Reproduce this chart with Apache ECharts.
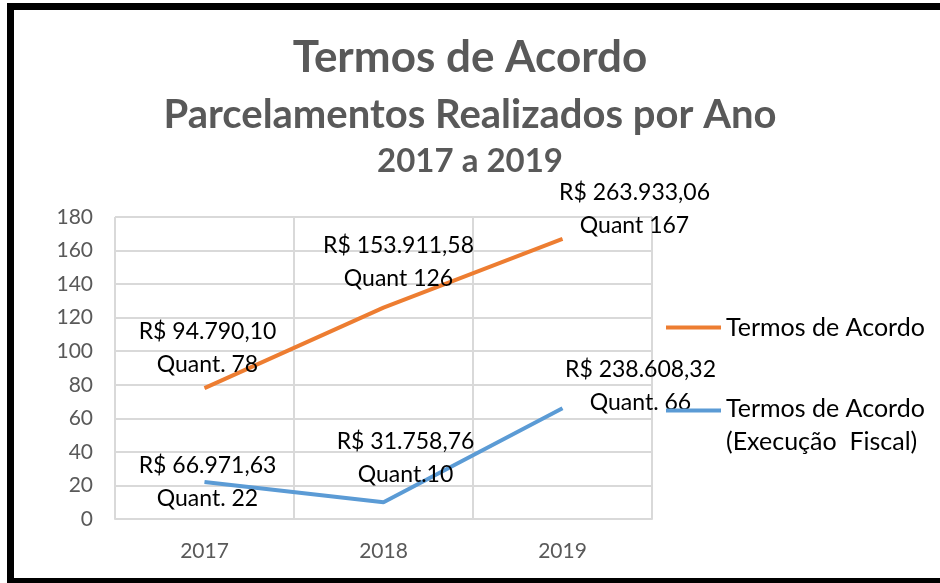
<!DOCTYPE html>
<html>
<head>
<meta charset="utf-8">
<script src="https://cdn.jsdelivr.net/npm/echarts@6/dist/echarts.min.js"></script>
<style>html,body{margin:0;padding:0;background:#fff}#c{width:940px;height:583px}</style>
</head>
<body>
<div id="c"></div>
<script>
var categories = ['2017', '2018', '2019'];
var seriesNames = ['Termos de Acordo', 'Termos de Acordo (Execução Fiscal)'];
var valuesAcordo = [78, 126, 167];
var valuesFiscal = [22, 10, 66];
var labelsAcordo = ['R$ 94.790,10\nQuant. 78', 'R$ 153.911,58\nQuant 126', 'R$ 263.933,06\nQuant 167'];
var labelsFiscal = ['R$ 66.971,63\nQuant. 22', 'R$ 31.758,76\nQuant.10', 'R$ 238.608,32\nQuant. 66'];
var yTicks = [0, 20, 40, 60, 80, 100, 120, 140, 160, 180];

var FONT = 'Lato';
var offsetsAcordo = [[3, -40], [15, -46], [72, -30]];
var offsetsFiscal = [[3, 0], [22, -44], [78, -22]];

function mk(vals, labels, offs) {
  return vals.map(function (v, i) {
    return { value: v, label: { offset: offs[i], formatter: labels[i] } };
  });
}

var labelStyle = { show: true, position: 'inside', fontFamily: FONT, fontSize: 23, lineHeight: 33, color: '#000' };

var chart = echarts.init(document.getElementById('c'));
chart.setOption({
  backgroundColor: '#ffffff',
  animation: false,
  title: [
    { text: 'Termos de Acordo', left: 'center', top: 31, textStyle: { fontFamily: FONT, fontSize: 44, fontWeight: 'bold', color: '#595959' } },
    { text: 'Parcelamentos Realizados por Ano', left: 'center', top: 90, textStyle: { fontFamily: FONT, fontSize: 40, fontWeight: 'bold', color: '#595959' } },
    { text: '2017 a 2019', left: 'center', top: 140, textStyle: { fontFamily: FONT, fontSize: 33, fontWeight: 'bold', color: '#595959' } }
  ],
  grid: { left: 115, right: 288, top: 217, bottom: 64 },
  legend: [
    {
      data: [seriesNames[0]], left: 661, top: 310, orient: 'vertical',
      icon: 'rect', itemWidth: 55, itemHeight: 4,
      itemStyle: { color: '#ED7D31', opacity: 1 },
      textStyle: { fontFamily: FONT, fontSize: 25, color: '#000' }
    },
    {
      data: [seriesNames[1]], left: 661, top: 387, orient: 'vertical',
      icon: 'path://M0,0L55,0L55,4L0,4Z M0,32.9L0.02,32.9L0.02,33Z', itemWidth: 55, itemHeight: 33,
      itemStyle: { color: '#5B9BD5', opacity: 1 },
      formatter: function () { return 'Termos de Acordo\n(Execução  Fiscal)'; },
      textStyle: { fontFamily: FONT, fontSize: 25, lineHeight: 33, color: '#000' }
    }
  ],
  xAxis: {
    type: 'category', data: categories, boundaryGap: true,
    axisLine: { show: true, lineStyle: { color: '#d9d9d9', width: 2 } },
    axisTick: { show: false },
    splitLine: { show: true, lineStyle: { color: '#d9d9d9', width: 2 } },
    axisLabel: { fontFamily: FONT, fontSize: 21, color: '#595959', margin: 22 }
  },
  yAxis: {
    type: 'value', min: yTicks[0], max: yTicks[yTicks.length - 1], interval: 20,
    axisLine: { show: false }, axisTick: { show: false },
    splitLine: { lineStyle: { color: '#d9d9d9', width: 2 } },
    axisLabel: { fontFamily: FONT, fontSize: 21, color: '#595959', margin: 22 }
  },
  series: [
    {
      name: seriesNames[0], type: 'line', data: mk(valuesAcordo, labelsAcordo, offsetsAcordo),
      showSymbol: true, symbol: 'circle', symbolSize: 0.5, itemStyle: { color: '#ED7D31' },
      color: '#ED7D31', lineStyle: { width: 4, color: '#ED7D31' },
      label: labelStyle, z: 3
    },
    {
      name: seriesNames[1], type: 'line', data: mk(valuesFiscal, labelsFiscal, offsetsFiscal),
      showSymbol: true, symbol: 'circle', symbolSize: 0.5, itemStyle: { color: '#5B9BD5' },
      color: '#5B9BD5', lineStyle: { width: 4, color: '#5B9BD5' },
      label: labelStyle, z: 3
    }
  ],
  graphic: [
    { type: 'rect', shape: { x: 7, y: 3, width: 933, height: 7 }, style: { fill: '#000' }, z: 100 },
    { type: 'rect', shape: { x: 7, y: 3, width: 7, height: 580 }, style: { fill: '#000' }, z: 100 },
    { type: 'rect', shape: { x: 7, y: 578, width: 933, height: 5 }, style: { fill: '#000' }, z: 100 }
  ]
});
</script>
</body>
</html>
